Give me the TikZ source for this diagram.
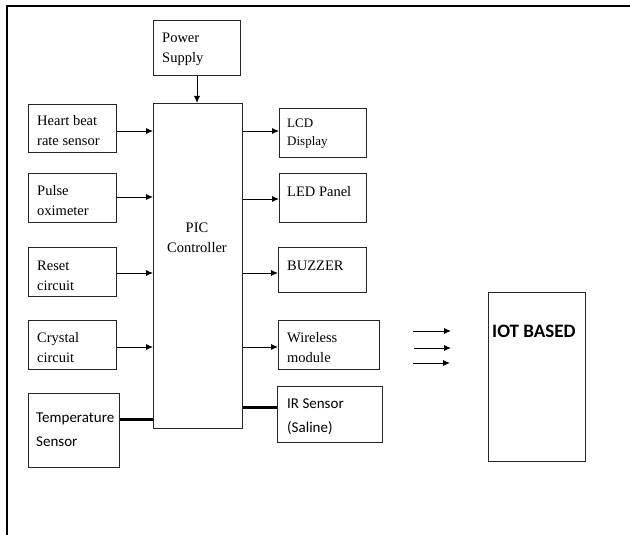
\documentclass[tikz,border=0pt]{standalone}
\usepackage{fontspec}
\setmainfont{Liberation Serif}
\newfontfamily\calibrifont{Carlito}
\usetikzlibrary{arrows.meta}

% serif labels and sans labels, with a fixed first-line strut
\newcommand\sr{\fontsize{14.5}{20}\selectfont}
\newcommand\srsmall{\fontsize{13}{18}\selectfont}
\newcommand\cb{\calibrifont\fontsize{15}{24}\selectfont}
\newcommand\fst{\rule{0pt}{11pt}}

\tikzset{
  blk/.style={draw=black!85, line width=1pt, inner sep=0pt, anchor=north west},
  lbl/.style={inner sep=0pt, anchor=north west, align=left},
  arr/.style={-{Latex[length=7pt,width=6pt]}, line width=0.9pt},
  bar/.style={line width=3pt},
  frame/.style={line width=2pt},
}

\begin{document}
\begin{tikzpicture}[x=1pt, y=-1pt]
\useasboundingbox (0,0) rectangle (630,535);
\draw[frame] (7,535) -- (7,6) -- (630,6);

% blocks
\node[blk, minimum width=87pt, minimum height=55pt]  (pw)  at (153,20)  {};
\node[blk, minimum width=89pt, minimum height=325pt] (pic) at (153,103) {};
\node[blk, minimum width=88pt, minimum height=48pt]  (hb)  at (28,104)  {};
\node[blk, minimum width=88pt, minimum height=49pt]  (po)  at (28,173)  {};
\node[blk, minimum width=88pt, minimum height=49pt]  (rc)  at (28,247)  {};
\node[blk, minimum width=88pt, minimum height=49pt]  (cc)  at (28,320)  {};
\node[blk, minimum width=91pt, minimum height=74pt]  (ts)  at (28,393)  {};
\node[blk, minimum width=87pt, minimum height=49pt]  (lcd) at (279,108) {};
\node[blk, minimum width=87pt, minimum height=49pt]  (led) at (279,173) {};
\node[blk, minimum width=88pt, minimum height=45pt]  (bz)  at (278,247) {};
\node[blk, minimum width=101pt, minimum height=49pt] (wm)  at (278,320) {};
\node[blk, minimum width=105pt, minimum height=56pt] (ir)  at (277,386) {};
\node[blk, minimum width=97pt, minimum height=169pt] (iot) at (488,292) {};

% labels (placed at first baseline minus the 11pt strut)
\node[lbl, font=\sr] (pwt) at (162,31) {\fst Power\\Supply};
\node[lbl, font=\sr, align=center, anchor=north] (pict) at (197,221) {\fst PIC\\Controller};
\node[lbl, font=\sr] (hbt) at (37,114) {\fst Heart beat\\rate sensor};
\node[lbl, font=\sr] (pot) at (37,184) {\fst Pulse\\oximeter};
\node[lbl, font=\sr] (rct) at (37,259) {\fst Reset\\circuit};
\node[lbl, font=\sr] (cct) at (37,331) {\fst Crystal\\circuit};
\node[lbl, font=\cb] (tst) at (36,411) {\fst Temperature\\Sensor};
\node[lbl, font=\srsmall] (lcdt) at (287,116) {\fst LCD\\Display};
\node[lbl, font=\sr] (ledt) at (287,185) {\fst LED Panel};
\node[lbl, font=\sr] (bzt)  at (287,259) {\fst BUZZER};
\node[lbl, font=\sr] (wmt)  at (287,331) {\fst Wireless\\module};
\node[lbl, font=\cb] (irt)  at (287,397) {\fst IR Sensor\\(Saline)};
\node[lbl, font=\calibrifont\bfseries\fontsize{19}{22}\selectfont] (iott) at (492,324) {\rule{0pt}{13pt}IOT BASED};

% connectors
\draw[arr] (pw.south) -- (pw.south |- pic.north);
\draw[arr] (hb.east |- 0,131) -- (pic.west |- 0,131);
\draw[arr] (po.east |- 0,197) -- (pic.west |- 0,197);
\draw[arr] (rc.east |- 0,273) -- (pic.west |- 0,273);
\draw[arr] (cc.east |- 0,347) -- (pic.west |- 0,347);
\draw[bar] (ts.east |- 0,419) -- (pic.west |- 0,419);

\draw[arr] (pic.east |- 0,131) -- (lcd.west |- 0,131);
\draw[arr] (pic.east |- 0,199) -- (led.west |- 0,199);
\draw[arr] (pic.east |- 0,273) -- (bz.west |- 0,273);
\draw[arr] (pic.east |- 0,347) -- (wm.west |- 0,347);
\draw[bar] (pic.east |- 0,407) -- (ir.west |- 0,407);

% three free arrows toward the IoT block
\coordinate (a1s) at (413,331); \coordinate (a1e) at (451,331);
\coordinate (a2s) at (414,348); \coordinate (a2e) at (451,348);
\coordinate (a3s) at (413,363); \coordinate (a3e) at (450,363);
\draw[arr] (a1s) -- (a1e);
\draw[arr] (a2s) -- (a2e);
\draw[arr] (a3s) -- (a3e);
\end{tikzpicture}
\end{document}
